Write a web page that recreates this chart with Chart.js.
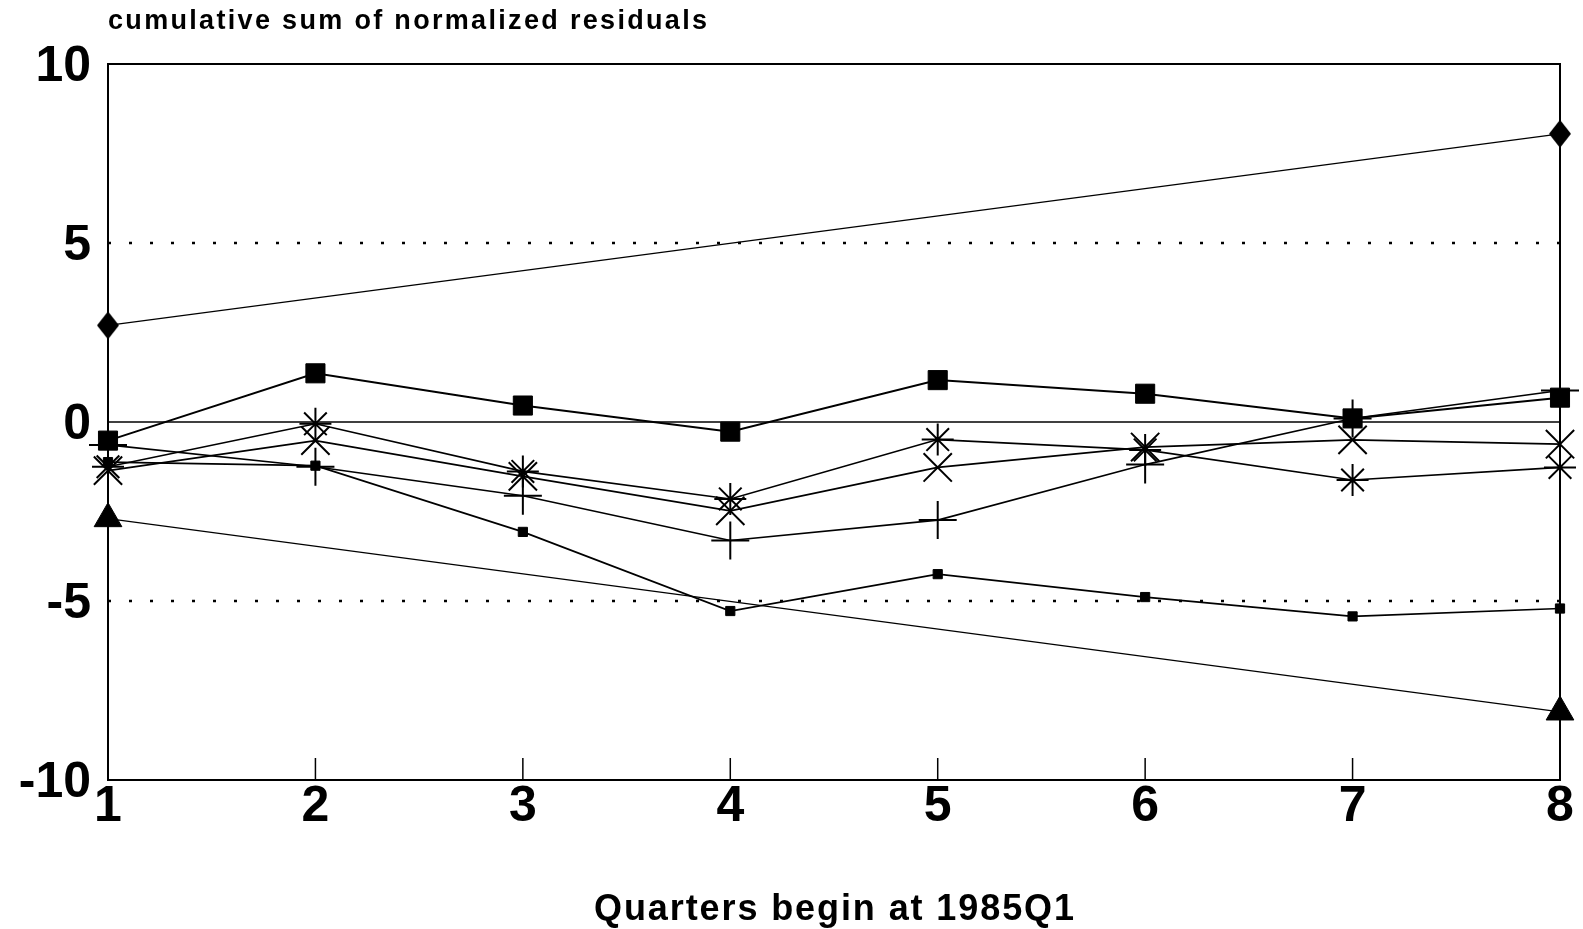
<!DOCTYPE html>
<html>
<head>
<meta charset="utf-8">
<title>Cumulative sum of normalized residuals</title>
<style>
  html, body { margin: 0; padding: 0; background: #fff; }
  #wrap { position: relative; width: 1583px; height: 929px; }
</style>
</head>
<body>
<div id="wrap"><canvas id="myChart" width="1583" height="929"></canvas></div>
<script src="https://cdn.jsdelivr.net/npm/chart.js@4/dist/chart.umd.min.js"></script>
<script>
// quarters on the x axis
var quarters = ['1', '2', '3', '4', '5', '6', '7', '8'];
var yTicks = [-10, -5, 0, 5, 10];

// 5% bounds (only the two ends are drawn, joined by a straight line)
var upperBound = [2.7, null, null, null, null, null, null, 8.05];
var lowerBound = [-2.7, null, null, null, null, null, null, -8.1];

// cumulative sums of normalized residuals, one array per marker
var bigSquare   = [-0.52, 1.36, 0.46, -0.27, 1.17, 0.79, 0.10, 0.68];
var smallSquare = [-1.12, -1.22, -3.07, -5.28, -4.25, -4.89, -5.43, -5.21];
var plusSeries  = [-0.64, -1.25, -2.06, -3.31, -2.74, -1.19, 0.10, 0.88];
var starSeries  = [-1.25, -0.05, -1.38, -2.15, -0.49, -0.78, -1.62, -1.27];
var crossSeries = [-1.36, -0.52, -1.52, -2.48, -1.27, -0.70, -0.50, -0.62];

// reference levels
var zeroLine = [0, 0, 0, 0, 0, 0, 0, 0];
var plusFive = [5, 5, 5, 5, 5, 5, 5, 5];
var minusFive = [-5, -5, -5, -5, -5, -5, -5, -5];

var yTitle = 'cumulative sum of normalized residuals';
var xTitle = 'Quarters begin at 1985Q1';

var fam = '"Liberation Sans", Arial, Helvetica, sans-serif';

// tall filled diamond marker
var diamond = document.createElement('canvas');
diamond.width = 22; diamond.height = 28;
(function () {
  var c = diamond.getContext('2d');
  c.fillStyle = '#000';
  c.beginPath();
  c.moveTo(11, 0); c.lineTo(22, 14); c.lineTo(11, 28); c.lineTo(0, 14);
  c.closePath();
  c.fill();
})();

function series(data, style, radius, width, lineW) {
  return {
    data: data,
    borderColor: '#000',
    backgroundColor: '#000',
    borderWidth: lineW || 2,
    pointStyle: style,
    pointRadius: radius,
    pointBorderWidth: width,
    pointBackgroundColor: '#000',
    pointBorderColor: '#000',
    spanGaps: true,
    tension: 0,
    fill: false,
    clip: false
  };
}
function refLine(data, dash, w) {
  return {
    data: data,
    borderColor: '#000',
    borderWidth: w,
    borderDash: dash,
    pointRadius: 0,
    fill: false,
    order: 10
  };
}

function drawSpaced(ctx, text, font, x, y, targetW, align) {
  ctx.font = font;
  var w = ctx.measureText(text).width;
  var sp = (targetW - w) / (text.length - 1);
  var x0 = align === 'center' ? x - targetW / 2 : x;
  ctx.textAlign = 'left';
  ctx.textBaseline = 'alphabetic';
  for (var i = 0; i < text.length; i++) {
    ctx.fillText(text[i], x0, y);
    x0 += ctx.measureText(text[i]).width + sp;
  }
}

var frame = {
  id: 'frame',
  afterDatasetsDraw: function (chart) {
    var ctx = chart.ctx, a = chart.chartArea, xs = chart.scales.x;
    ctx.save();
    ctx.strokeStyle = '#000';
    ctx.lineWidth = 2;
    ctx.strokeRect(a.left, a.top, a.right - a.left, a.bottom - a.top);
    // short inward ticks on the x axis
    ctx.lineWidth = 1.5;
    for (var i = 1; i < quarters.length - 1; i++) {
      var px = xs.getPixelForValue(i);
      ctx.beginPath();
      ctx.moveTo(px, a.bottom);
      ctx.lineTo(px, a.bottom - 22);
      ctx.stroke();
    }
    ctx.fillStyle = '#000';
    drawSpaced(ctx, yTitle, 'bold 27px ' + fam, a.left, 29, 599, 'left');
    drawSpaced(ctx, xTitle, 'bold 36px ' + fam, (a.left + a.right) / 2, 920, 480, 'center');
    ctx.restore();
  }
};

var ctx = document.getElementById('myChart').getContext('2d');
var chart = new Chart(ctx, {
  type: 'line',
  data: {
    labels: quarters,
    datasets: [
      series(upperBound, diamond, 14, 0, 1.3),
      series(lowerBound, 'triangle', 16, 1, 1.3),
      series(bigSquare, 'rect', 13.5, 1, 2),
      series(smallSquare, 'rect', 6.5, 1, 1.7),
      series(plusSeries, 'cross', 19, 2, 1.6),
      series(starSeries, 'star', 16, 2, 1.7),
      series(crossSeries, 'crossRot', 20, 2, 1.7),
      refLine(zeroLine, [], 1.5),
      refLine(plusFive, [3, 18], 2.5),
      refLine(minusFive, [3, 18], 2.5)
    ]
  },
  options: {
    responsive: false,
    animation: false,
    events: [],
    layout: { padding: { top: 64, right: 23, left: 0, bottom: 0 } },
    plugins: { legend: { display: false }, tooltip: { enabled: false }, title: { display: false } },
    scales: {
      x: {
        type: 'category',
        offset: false,
        grid: { display: false, drawTicks: false },
        border: { display: false },
        ticks: { color: '#000', font: { family: fam, size: 50, weight: 'bold' }, padding: -3, maxRotation: 0 },
        afterFit: function (s) { s.height = 149; }
      },
      y: {
        min: -10,
        max: 10,
        afterBuildTicks: function (s) { s.ticks = yTicks.map(function (v) { return { value: v }; }); },
        grid: { display: false, drawTicks: false },
        border: { display: false },
        ticks: { color: '#000', font: { family: fam, size: 50, weight: 'bold' }, padding: 17, labelOffset: 3 },
        afterFit: function (s) { s.width = 108; }
      }
    }
  },
  plugins: [frame]
});
</script>
</body>
</html>
